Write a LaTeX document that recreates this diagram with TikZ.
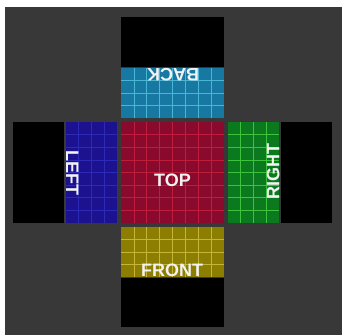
\documentclass[tikz,border=0pt]{standalone}
\usepackage{fontspec}
\setmainfont{Liberation Sans}
\usetikzlibrary{positioning}

\definecolor{bggray}{HTML}{383838}
\definecolor{backfill}{HTML}{1778A2}
\definecolor{backline}{HTML}{4AB6D6}
\definecolor{topfill}{HTML}{8A0A2E}
\definecolor{topline}{HTML}{BC1E3C}
\definecolor{frontfill}{HTML}{8C7E00}
\definecolor{frontline}{HTML}{C6B438}
\definecolor{rightfill}{HTML}{0B7A1E}
\definecolor{rightline}{HTML}{3EC23E}
\definecolor{leftfill}{HTML}{1C1290}
\definecolor{leftline}{HTML}{2E2AB8}
\definecolor{lbltext}{HTML}{F2F2F2}

% grid face: x0, y0, width, height, cols, rows, fill, line
\newcommand{\gridface}[8]{%
  \fill[#7] (#1,#2) rectangle ++(#3,#4);
  \pgfmathtruncatemacro\ncols{#5-1}
  \pgfmathtruncatemacro\nrows{#6-1}
  \foreach \i in {1,...,\ncols} \draw[#8, line width=0.7pt] (#1+\i*#3/#5,#2) -- ++(0,#4);
  \foreach \j in {1,...,\nrows} \draw[#8, line width=0.7pt] (#1,#2+\j*#4/#6) -- ++(#3,0);
}

\begin{document}
\begin{tikzpicture}[
  x=1pt, y=1pt,
  lbl/.style={text=lbltext, font=\fontsize{18}{20}\selectfont\bfseries, inner sep=0pt, anchor=base}
]
\useasboundingbox (0,0) rectangle (342,335);
\fill[bggray] (5,0) rectangle (342,328);

% faces
\gridface{121}{112}{103}{101}{8}{8}{topfill}{topline}
\gridface{121}{217}{103}{50}{8}{4}{backfill}{backline}
\gridface{121}{58}{103}{50}{8}{4}{frontfill}{frontline}
\gridface{66}{112}{51}{101}{4}{8}{leftfill}{leftline}
\gridface{228}{112}{51}{101}{4}{8}{rightfill}{rightline}

% black flaps
\fill[black] (121,268) rectangle (224,318);
\fill[black] (121,8) rectangle (224,57);
\fill[black] (13,112) rectangle (64,213);
\fill[black] (281,112) rectangle (332,213);

% labels
\node[lbl] (toplbl) at (172.5,148.7) {TOP};
\node[lbl, rotate=180] (backlbl) at (173,266) {BACK};
\node[lbl] (frontlbl) at (172,58.5) {FRONT};
\node[lbl, rotate=-90] (leftlbl) at (66,162) {LEFT};
\node[lbl, rotate=90] (rightlbl) at (279.3,163.3) {RIGHT};
\end{tikzpicture}
\end{document}
